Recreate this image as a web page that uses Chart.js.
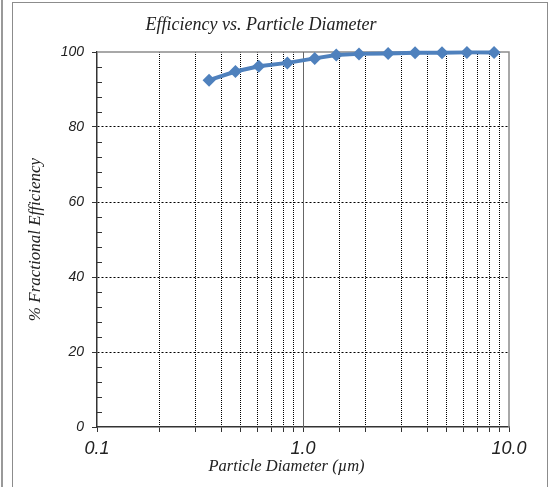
<!DOCTYPE html>
<html lang="en">
  <head>
    <meta charset="UTF-8" />
    <title>Efficiency vs. Particle Diameter</title>
    <script src="https://cdn.jsdelivr.net/npm/chart.js"></script>
    <style>
      body { margin: 0; background: #fff; }
      #wrap { position: relative; width: 552px; height: 487px; overflow: hidden; }
      #edge { position: absolute; left: 1px; top: 0; width: 1.5px; height: 487px; background: #999; }
      #frame { position: absolute; left: 12px; top: 2px; width: 534px; height: 520px; border: 1.5px solid #8c8c8c; }
      #box { position: absolute; left: 0; top: 0; width: 552px; height: 487px; }
    </style>
  </head>
  <body>
    <div id="wrap">
      <div id="edge"></div>
      <div id="frame"></div>
      <div id="box"><canvas id="effChart"></canvas></div>
    </div>

    <script>
      // values
      const diameters = [0.35, 0.47, 0.61, 0.84, 1.14, 1.45, 1.87, 2.59, 3.5, 4.73, 6.25, 8.46];
      const efficiency = [92.5, 94.8, 96.2, 97.1, 98.3, 99.2, 99.5, 99.6, 99.8, 99.8, 99.9, 99.9];
      const xDecades = [0.1, 1, 10];
      const yLabelled = [0, 20, 40, 60, 80, 100];

      const points = diameters.map((d, i) => ({ x: d, y: efficiency[i] }));

      function isDecade(v) {
        return xDecades.some(d => Math.abs(v - d) < 1e-9);
      }

      // grey frame on top/right, solid line at 1.0, small inward minor ticks on y
      const plotFrame = {
        id: 'plotFrame',
        beforeDatasetsDraw(chart) {
          const { ctx, chartArea: a, scales } = chart;
          ctx.save();
          ctx.strokeStyle = '#8c8c8c';
          ctx.lineWidth = 1.5;
          ctx.beginPath();
          ctx.moveTo(a.left, a.top);
          ctx.lineTo(a.right, a.top);
          ctx.lineTo(a.right, a.bottom);
          ctx.stroke();
          const x1 = Math.round(scales.x.getPixelForValue(1)) + 0.5;
          ctx.lineWidth = 1;
          ctx.strokeStyle = '#666';
          ctx.beginPath();
          ctx.moveTo(x1, a.top);
          ctx.lineTo(x1, a.bottom);
          ctx.stroke();
          ctx.strokeStyle = '#333';
          ctx.lineWidth = 1.2;
          ctx.beginPath();
          scales.y.ticks.forEach(t => {
            if (t.value % 20 === 0) return;
            const py = Math.round(scales.y.getPixelForValue(t.value)) + 0.5;
            ctx.moveTo(a.left, py);
            ctx.lineTo(a.left + 5, py);
          });
          ctx.stroke();
          ctx.restore();
        }
      };

      const ctx = document.getElementById('effChart').getContext('2d');
      new Chart(ctx, {
        type: 'line',
        data: {
          datasets: [{
            data: points,
            borderColor: '#4F81BD',
            backgroundColor: '#4F81BD',
            borderWidth: 4,
            pointStyle: 'rectRot',
            pointRadius: 6.5,
            pointHoverRadius: 6.5,
            pointBorderWidth: 0,
            clip: false
          }]
        },
        options: {
          responsive: true,
          maintainAspectRatio: false,
          animation: false,
          layout: { padding: { left: 13, right: 43, top: 0, bottom: 0 } },
          plugins: {
            legend: { display: false },
            tooltip: { enabled: false },
            title: {
              display: true,
              text: 'Efficiency vs. Particle Diameter',
              color: '#222',
              font: { family: 'Liberation Serif', style: 'italic', weight: 'normal', size: 18 },
              padding: { top: 14, bottom: 16.4 }
            }
          },
          scales: {
            x: {
              type: 'logarithmic',
              min: 0.1,
              max: 10,
              afterFit(scale) { scale.height = 60; },
              grid: {
                color: c => (c.tick && !isDecade(c.tick.value)) ? '#000' : 'rgba(0,0,0,0)',
                lineWidth: 1,
                tickColor: '#333',
                tickLength: 5
              },
              border: { color: '#333', width: 1.5, dash: [1, 1] },
              ticks: {
                autoSkip: false,
                maxRotation: 0,
                padding: 6,
                color: '#222',
                font: { family: 'Liberation Sans', style: 'italic', size: 18 },
                callback: v => isDecade(v) ? v.toFixed(1) : ''
              },
              title: {
                display: true,
                // trailing no-break spaces nudge the centred title left, as in the original
                text: 'Particle Diameter (\u00b5m)' + '\u00a0'.repeat(8),
                color: '#222',
                font: { family: 'Liberation Serif', style: 'italic', size: 16.5 },
                padding: { top: 2, bottom: 10 }
              }
            },
            y: {
              min: 0,
              max: 100,
              afterFit(scale) { scale.width = 84; },
              grid: {
                color: c => (c.tick && c.tick.value % 20 === 0 && c.tick.value > 0 && c.tick.value < 100) ? '#000' : 'rgba(0,0,0,0)',
                lineWidth: 1,
                tickColor: c => (c.tick && c.tick.value % 20 === 0) ? '#333' : 'rgba(0,0,0,0)',
                tickLength: 5
              },
              border: { color: '#333', width: 1.5, dash: [2, 2] },
              ticks: {
                stepSize: 4,
                autoSkip: false,
                padding: 8,
                color: '#222',
                font: { family: 'Liberation Sans', style: 'italic', size: 14 },
                callback: v => yLabelled.includes(v) ? v : ''
              },
              title: {
                display: true,
                text: '% Fractional Efficiency',
                color: '#222',
                font: { family: 'Liberation Serif', style: 'italic', size: 17 },
                padding: { top: 12, bottom: 4 }
              }
            }
          }
        },
        plugins: [plotFrame]
      });
    </script>
  </body>
</html>
